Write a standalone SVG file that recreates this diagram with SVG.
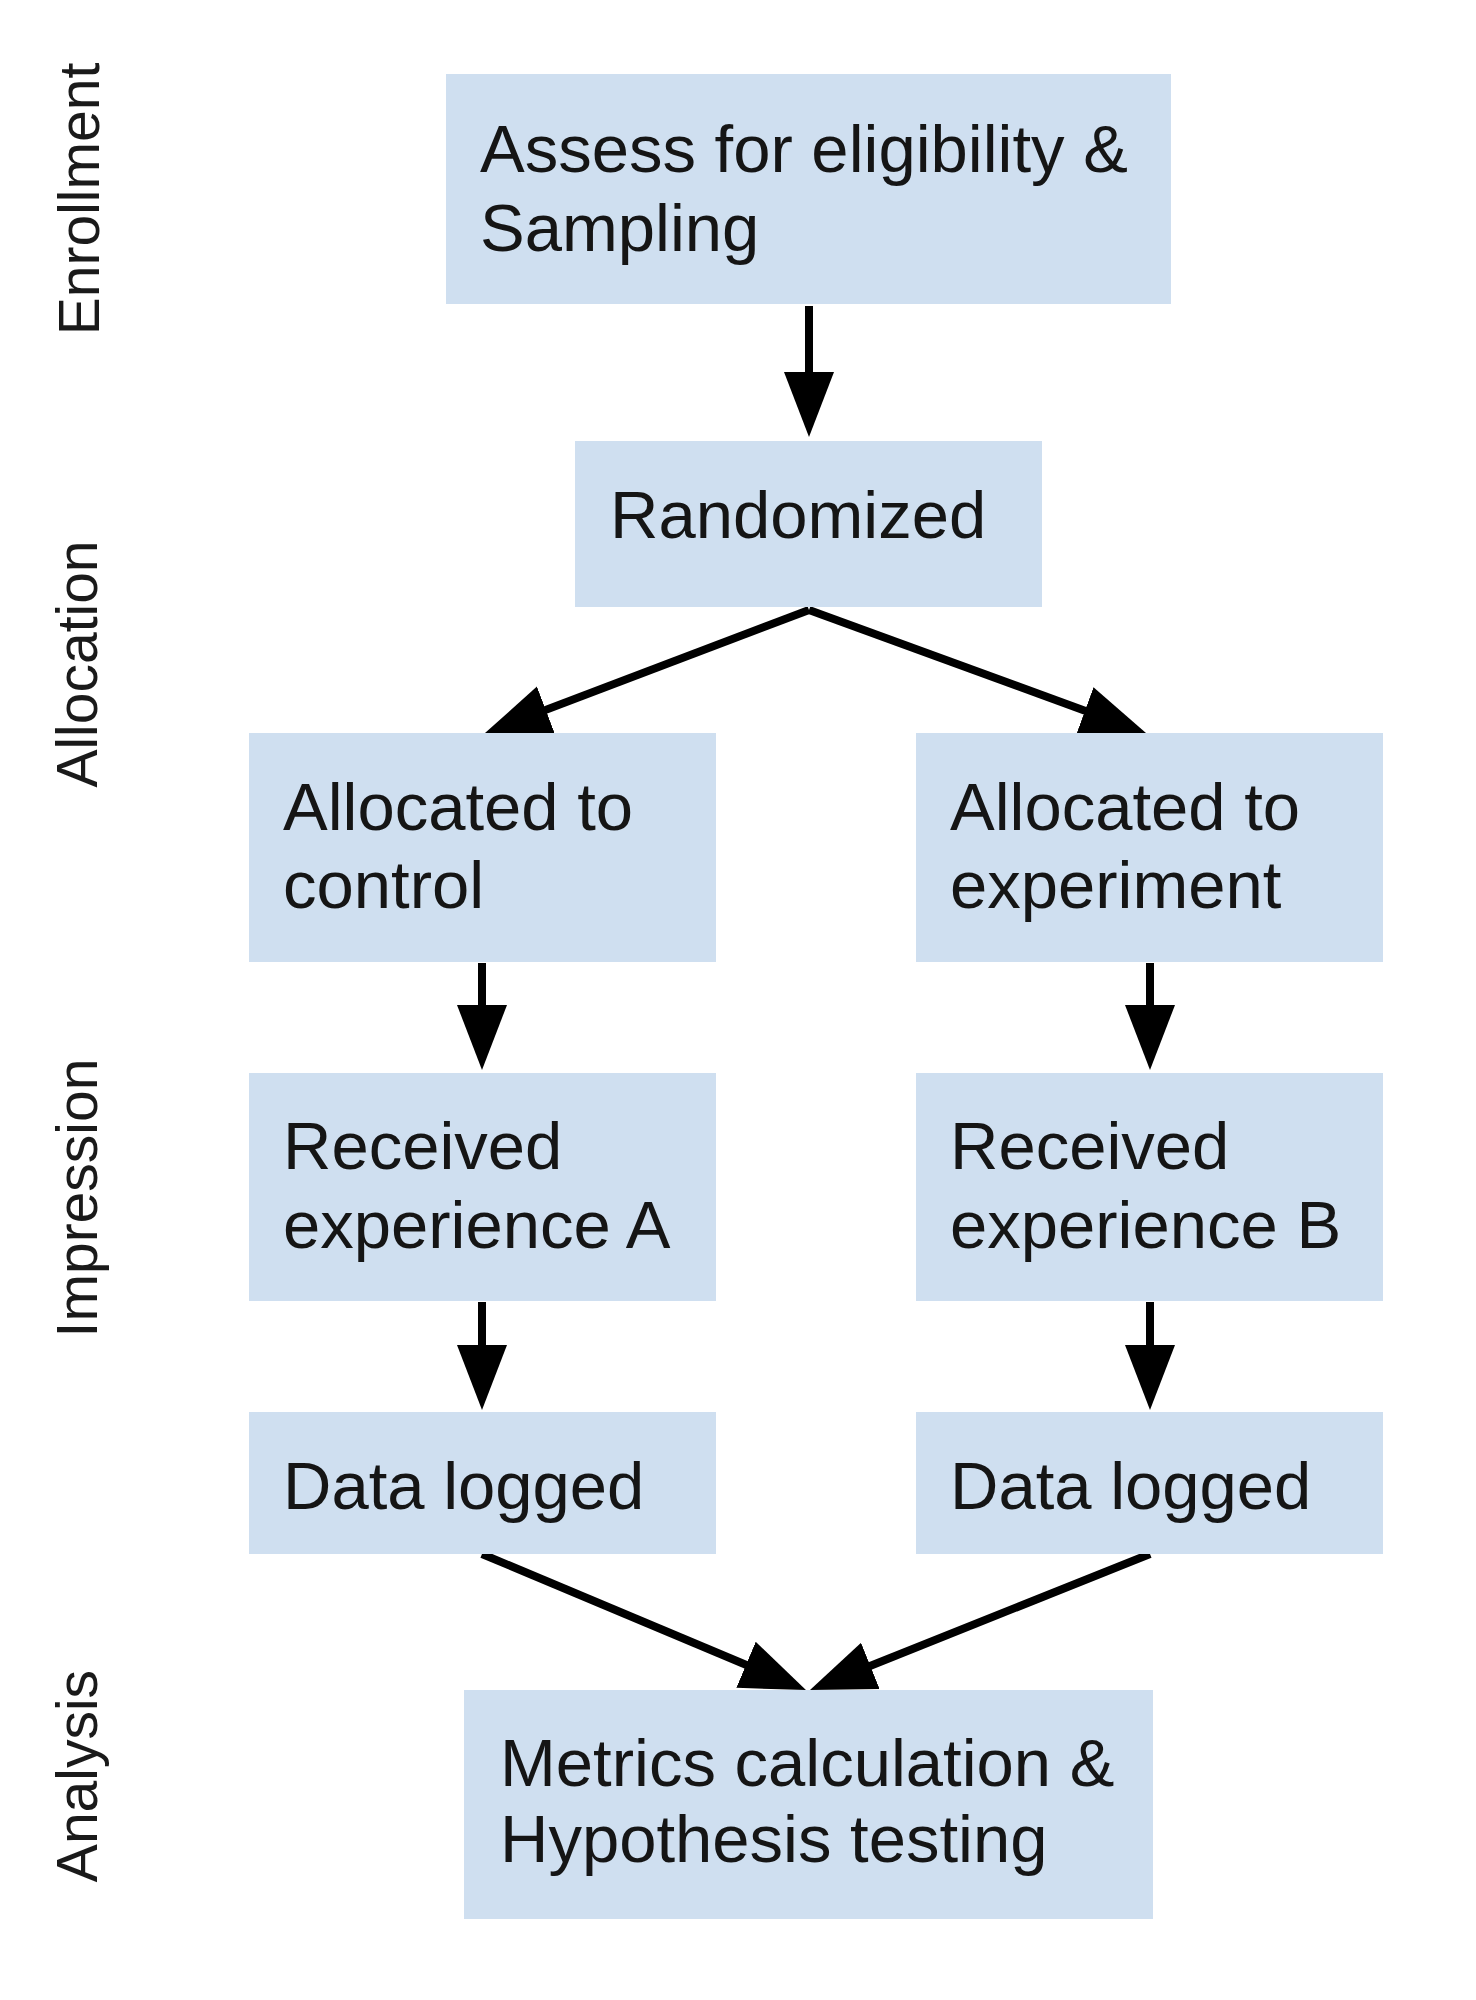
<svg xmlns="http://www.w3.org/2000/svg" width="1476" height="2000" viewBox="0 0 1476 2000">
<style>
.box{fill:#cfdff0;}
.t{font-family:"Liberation Sans",Arial,sans-serif;font-size:67px;fill:#151515;}
.lab{font-family:"Liberation Sans",Arial,sans-serif;font-size:57px;fill:#1a1a1a;text-anchor:middle;}
.c{stroke:#000;stroke-width:8;fill:none;marker-end:url(#ah);}
</style>
<defs>
<marker id="ah" markerUnits="userSpaceOnUse" markerWidth="66" markerHeight="52" refX="40" refY="26" orient="auto" viewBox="0 0 66 52">
<path d="M0,1 L65,26 L0,51 z" fill="#000"/>
</marker>
</defs>
<rect width="1476" height="2000" fill="#fff"/>
<g id="lanes">
<text class="lab" transform="translate(99,199) rotate(-90)">Enrollment</text>
<text class="lab" transform="translate(97,664) rotate(-90)">Allocation</text>
<text class="lab" transform="translate(97,1198) rotate(-90)">Impression</text>
<text class="lab" transform="translate(97,1776) rotate(-90)">Analysis</text>
</g>
<g id="connectors">
<line class="c" x1="809" y1="306" x2="809" y2="412"/>
<line class="c" x1="809" y1="610" x2="508.4" y2="724.1"/>
<line class="c" x1="809" y1="610" x2="1122.5" y2="724.4"/>
<line class="c" x1="482" y1="963" x2="482" y2="1045"/>
<line class="c" x1="1150" y1="963" x2="1150" y2="1045"/>
<line class="c" x1="482" y1="1302" x2="482" y2="1385"/>
<line class="c" x1="1150" y1="1302" x2="1150" y2="1385"/>
<line class="c" x1="482" y1="1554" x2="782.9" y2="1680.3"/>
<line class="c" x1="1150" y1="1554" x2="833.2" y2="1680.7"/>
</g>
<g id="assess">
<rect class="box" x="446" y="74" width="725" height="230"/>
<text class="t" x="480" y="172">Assess for eligibility &amp;</text>
<text class="t" x="480" y="251">Sampling</text>
</g>
<g id="randomized">
<rect class="box" x="575" y="441" width="467" height="166"/>
<text class="t" x="610" y="538">Randomized</text>
</g>
<g id="alloc-control">
<rect class="box" x="249" y="733" width="467" height="229"/>
<text class="t" x="283" y="830">Allocated to</text>
<text class="t" x="283" y="908">control</text>
</g>
<g id="alloc-experiment">
<rect class="box" x="916" y="733" width="467" height="229"/>
<text class="t" x="950" y="830">Allocated to</text>
<text class="t" x="950" y="908">experiment</text>
</g>
<g id="received-a">
<rect class="box" x="249" y="1073" width="467" height="228"/>
<text class="t" x="283" y="1169">Received</text>
<text class="t" x="283" y="1248">experience A</text>
</g>
<g id="received-b">
<rect class="box" x="916" y="1073" width="467" height="228"/>
<text class="t" x="950" y="1169">Received</text>
<text class="t" x="950" y="1248">experience B</text>
</g>
<g id="data-a">
<rect class="box" x="249" y="1412" width="467" height="142"/>
<text class="t" x="283" y="1509">Data logged</text>
</g>
<g id="data-b">
<rect class="box" x="916" y="1412" width="467" height="142"/>
<text class="t" x="950" y="1509">Data logged</text>
</g>
<g id="metrics">
<rect class="box" x="464" y="1690" width="689" height="229"/>
<text class="t" x="500" y="1786">Metrics calculation &amp;</text>
<text class="t" x="500" y="1862">Hypothesis testing</text>
</g>
</svg>
